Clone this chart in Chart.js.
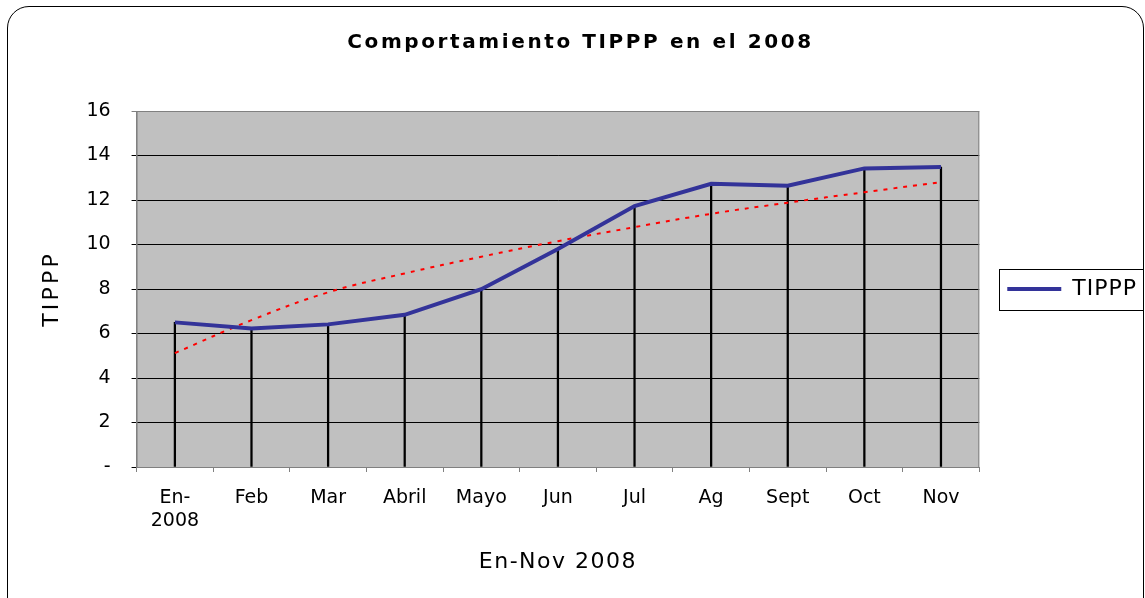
<!DOCTYPE html>
<html>
<head>
<meta charset="utf-8">
<script src="https://cdn.jsdelivr.net/npm/chart.js@4.4.1/dist/chart.umd.min.js"></script>
<style>
    html, body { margin: 0; padding: 0; background: #fff; }
    #wrap { position: relative; width: 1145px; height: 598px; overflow: hidden; }
    #frame {
        position: absolute; left: 7px; top: 6px; width: 1137px; height: 620px;
        border: 1px solid #000; border-radius: 22px; box-sizing: border-box;
    }
    #chart { position: absolute; left: 0; top: 0; }
</style>
</head>
<body>
<div id="wrap">
    <div id="frame"></div>
    <canvas id="chart" width="1145" height="598"></canvas>
</div>
<script>
/*------------------------ DATA ---------------------------------*/

const months = [['En-', '2008'], 'Feb', 'Mar', 'Abril', 'Mayo', 'Jun', 'Jul', 'Ag', 'Sept', 'Oct', 'Nov']
const tippp = [6.5, 6.23, 6.41, 6.84, 7.99, 9.8, 11.73, 12.73, 12.64, 13.42, 13.48]
const trend = [5.12, 6.6, 7.85, 8.7, 9.45, 10.15, 10.78, 11.38, 11.88, 12.35, 12.8]

/*------------------------ PLUGINS ---------------------------------*/

// Excel spreads its letters out, canvas can do that with letterSpacing
function spaced(obj, fn, px, dx) {
    if (!obj || obj['_sp_' + fn]) return
    const orig = obj[fn]
    obj[fn] = function (...args) {
        const c = this.ctx
        c.save()
        c.letterSpacing = px + 'px'
        c.translate(dx || 0, 0)
        orig.apply(this, args)
        c.restore()
    }
    obj['_sp_' + fn] = true
}

const letterSpacing = {
    id: 'letterSpacing',
    afterLayout(chart) {
        spaced(chart.titleBlock, 'draw', 2.6, -10)
        spaced(chart.legend, 'draw', 1, 0)
        spaced(chart.scales.x, 'drawTitle', 1.5, 0)
        spaced(chart.scales.y, 'drawTitle', 3.2, 0)
    }
}

// gray plot area + gray border round it, box round the legend
const plotBox = {
    id: 'plotBox',
    beforeDraw(chart) {
        const {ctx, chartArea: a} = chart
        ctx.save()
        ctx.fillStyle = '#C0C0C0'
        ctx.fillRect(a.left, a.top, a.right - a.left, a.bottom - a.top)
        ctx.restore()
    },
    beforeDatasetsDraw(chart) {
        const {ctx, chartArea: a} = chart
        ctx.save()
        ctx.strokeStyle = '#808080'
        ctx.lineWidth = 1
        ctx.strokeRect(a.left + 0.5, a.top + 0.5, a.right - a.left - 1, a.bottom - a.top)
        ctx.restore()
    },
    afterDraw(chart) {
        const item = chart.legend.legendHitBoxes[0]
        if (!item) return
        const {ctx} = chart
        const cy = item.top + item.height / 2
        ctx.save()
        ctx.strokeStyle = '#000'
        ctx.lineWidth = 1
        ctx.strokeRect(Math.round(item.left - 8) + 0.5, Math.round(cy - 20.5) + 0.5, 144, 41)
        ctx.restore()
    }
}

/*------------------------ CHART ---------------------------------*/

const ctx = document.querySelector('#chart').getContext('2d')

const chartData = {
    labels: months,
    datasets: [{
        type: 'line',
        label: 'TIPPP',
        data: tippp,
        borderColor: '#333399',
        backgroundColor: '#333399',
        borderWidth: 4,
        pointRadius: 0,
        tension: 0,
        order: 1
    }, {
        type: 'line',
        label: 'trend',
        data: trend,
        borderColor: '#FF0000',
        borderWidth: 2,
        borderDash: [4, 6],
        pointRadius: 0,
        tension: 0.4,
        order: 2
    }, {
        type: 'bar',
        label: 'drop',
        data: tippp,
        backgroundColor: '#000',
        barThickness: 1.6,
        order: 3
    }]
}

const chartOptions = {
    data: chartData,
    plugins: [plotBox, letterSpacing],
    options: {
        responsive: false,
        animation: false,
        layout: { padding: { top: 31, left: 39, right: 3, bottom: 23 } },
        scales: {
            x: {
                offset: true,
                grid: {
                    offset: true,
                    drawOnChartArea: false,
                    tickLength: 5,
                    color: '#808080'
                },
                border: { color: '#808080' },
                ticks: {
                    color: '#000',
                    maxRotation: 0,
                    autoSkip: false,
                    padding: 15,
                    font: { family: 'DejaVu Sans', size: 19 }
                },
                title: {
                    display: true,
                    text: 'En-Nov 2008',
                    color: '#000',
                    padding: { top: 1, bottom: 0 },
                    font: { family: 'DejaVu Sans', size: 22 }
                }
            },
            y: {
                min: 0,
                max: 16,
                grid: {
                    tickLength: 5,
                    color: c => (c.tick && c.tick.value === 16) ? '#808080' : '#000'
                },
                border: { color: '#808080' },
                ticks: {
                    stepSize: 2,
                    color: '#000',
                    padding: 21,
                    font: { family: 'DejaVu Sans', size: 19 },
                    callback: v => v === 0 ? '-' : v
                },
                title: {
                    display: true,
                    text: 'TIPPP',
                    color: '#000',
                    padding: { top: 0, bottom: 0 },
                    font: { family: 'DejaVu Sans', size: 22 }
                }
            }
        },
        plugins: {
            title: {
                display: true,
                text: 'Comportamiento TIPPP en el 2008',
                color: '#000',
                padding: { top: 0, bottom: 56 },
                font: { family: 'DejaVu Sans', size: 20, weight: 'bold' }
            },
            legend: {
                position: 'right',
                fullSize: false,
                maxWidth: 166,
                labels: {
                    color: '#000',
                    usePointStyle: true,
                    pointStyle: 'line',
                    pointStyleWidth: 54,
                    boxHeight: 16,
                    padding: 28,
                    font: { family: 'DejaVu Sans', size: 22 },
                    filter: item => item.text === 'TIPPP'
                }
            },
            tooltip: { enabled: false }
        }
    }
}

const tipppChart = new Chart(ctx, chartOptions)
</script>
</body>
</html>
